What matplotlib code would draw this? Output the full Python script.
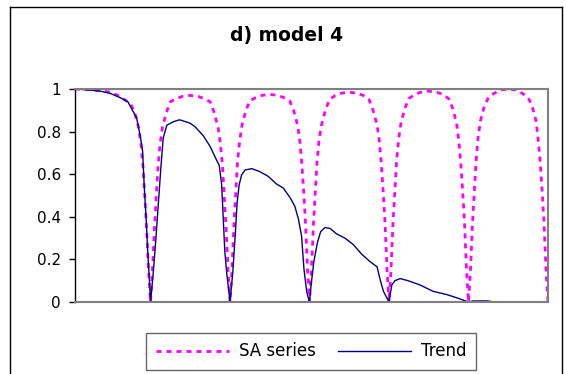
import numpy as np
import matplotlib
matplotlib.use('Agg')
import matplotlib.pyplot as plt
from matplotlib.lines import Line2D

sa_x = [0, 5, 9, 11.3, 14, 15, 16, 16.6, 17.1, 17.6, 18, 18.5, 19,
        19.5, 20, 20.4, 20.9, 21.4, 22, 23, 24, 25.5, 27, 29, 31, 32.5, 34, 35, 36, 36.6, 37.1, 37.6, 38, 38.5, 39,
        39.5, 40, 40.4, 40.9, 41.4, 42, 43, 44, 45.5, 47, 49, 51, 52.5, 54, 55, 56, 56.6, 57.1, 57.6, 58, 58.5, 59,
        59.5, 60, 60.4, 60.9, 61.4, 62, 63, 64, 65.5, 67, 69, 71, 72.5, 74, 75, 76, 76.6, 77.1, 77.6, 78, 78.5, 79,
        79.5, 80, 80.4, 80.9, 81.4, 82, 83, 84, 85.5, 87, 89, 91, 92.5, 94, 95, 96, 96.6, 97.1, 97.6, 98, 98.5, 99,
        99.5, 100, 100.4, 100.9, 101.4, 102, 103, 104, 105.5, 107, 109, 111, 112.5, 114, 115, 116, 116.6, 117.1, 117.6, 118, 118.5, 119]
sa_y = [1.0, 0.995, 0.985, 0.965, 0.93, 0.89, 0.82, 0.74, 0.64, 0.48, 0.35, 0.15, 0.0,
        0.15, 0.35, 0.48, 0.64, 0.74, 0.82, 0.89, 0.94, 0.955, 0.965, 0.97, 0.965, 0.955, 0.94, 0.89, 0.82, 0.74, 0.64, 0.48, 0.35, 0.15, 0.0,
        0.15, 0.37, 0.5, 0.66, 0.75, 0.83, 0.9, 0.945, 0.96, 0.97, 0.975, 0.97, 0.96, 0.945, 0.9, 0.83, 0.75, 0.64, 0.5, 0.37, 0.15, 0.0,
        0.15, 0.37, 0.5, 0.66, 0.76, 0.83, 0.9, 0.95, 0.97, 0.98, 0.985, 0.98, 0.97, 0.95, 0.9, 0.83, 0.75, 0.64, 0.5, 0.37, 0.15, 0.0,
        0.15, 0.37, 0.5, 0.66, 0.76, 0.84, 0.91, 0.955, 0.975, 0.985, 0.99, 0.985, 0.975, 0.955, 0.91, 0.84, 0.75, 0.64, 0.5, 0.37, 0.15, 0.0,
        0.15, 0.37, 0.5, 0.66, 0.77, 0.85, 0.92, 0.96, 0.98, 0.995, 1.0, 0.995, 0.98, 0.96, 0.92, 0.85, 0.75, 0.64, 0.5, 0.37, 0.15, 0.0]

# Trend
tr_x = [0, 3.8, 6.3, 8.8, 11.3, 13.3, 14.6, 15.5, 16.4, 17.0, 17.4, 17.9, 18.3, 18.7, 19,
        19.7, 20.4, 21.0, 21.6, 22.2, 23.1, 24.7, 26.0, 26.4, 28.9, 30.2, 32.3, 34.0, 35.6, 36.3, 36.9, 37.3, 37.7, 38.2, 38.7, 39,
        39.7, 40.3, 40.8, 41.3, 41.9, 42.8, 44.5, 46.5, 48.6, 50.7, 52.4, 54.1, 55.3, 56.2, 57.0, 57.6, 58.3, 59,
        59.4, 60.1, 61.0, 61.8, 62.9, 64.2, 65.8, 67.9, 70.0, 72.1, 74.2, 76.0, 76.7, 77.6, 79,
        79.7, 80.5, 81.8, 83.8, 86.8, 90.1, 93.5, 96.0, 99,
        100.2, 103.6, 105.7]
tr_y = [1.0, 0.995, 0.99, 0.98, 0.96, 0.94, 0.895, 0.865, 0.78, 0.71, 0.55, 0.39, 0.235, 0.11, 0.0,
        0.14, 0.31, 0.47, 0.63, 0.77, 0.83, 0.846, 0.854, 0.855, 0.84, 0.823, 0.78, 0.73, 0.667, 0.64, 0.55, 0.39, 0.235, 0.13, 0.05, 0.0,
        0.14, 0.31, 0.47, 0.55, 0.596, 0.62, 0.626, 0.612, 0.59, 0.554, 0.535, 0.49, 0.45, 0.39, 0.31, 0.155, 0.047, 0.0,
        0.08, 0.19, 0.28, 0.33, 0.35, 0.345, 0.32, 0.30, 0.27, 0.225, 0.19, 0.165, 0.11, 0.05, 0.0,
        0.08, 0.10, 0.11, 0.10, 0.08, 0.05, 0.035, 0.02, 0.0,
        0.005, 0.005, 0.0]

yticks = [0, 0.2, 0.4, 0.6, 0.8, 1]
ytick_labels = ['0', '0.2', '0.4', '0.6', '0.8', '1']

plt.rcParams['font.family'] = 'DejaVu Sans'

fig = plt.figure(figsize=(5.66, 3.74), dpi=100)
W, H = 566.0, 374.0
ax = fig.add_axes([75 / W, 1 - 302 / H, 473 / W, 213 / H])

ax.plot(sa_x, sa_y, color='#ff00ff', lw=2.0, linestyle=(0, (1.8, 1.8)), label='SA series')
ax.plot(tr_x, tr_y, color='#000080', lw=1.0, label='Trend')

ax.set_xlim(0, 119)
ax.set_ylim(0, 1)
ax.set_xticks([])
ax.set_yticks(yticks)
ax.set_yticklabels(ytick_labels, fontsize=11)
ax.tick_params(axis='y', direction='out', length=4, width=1, color='black', pad=6)

for s in ['top', 'right', 'bottom']:
    ax.spines[s].set_color('#808080')
    ax.spines[s].set_linewidth(1.5)
ax.spines['left'].set_color('black')
ax.spines['left'].set_linewidth(1.0)

fig.text(287 / W, 1 - 36 / H, 'd) model 4', ha='center', va='center',
         fontsize=13.5, fontweight='bold')

leg = fig.legend(loc='center', bbox_to_anchor=(311 / W, 1 - 351.5 / H), ncol=2,
                 fontsize=12, handlelength=4.4, handletextpad=0.6, columnspacing=1.3,
                 borderpad=0.55, fancybox=False, frameon=True)
leg.get_frame().set_edgecolor('#404040')
leg.get_frame().set_linewidth(1.0)

# outer chart border (bottom edge lies outside the image)
fig.add_artist(Line2D([9.5 / W, 9.5 / W], [0, 1 - 6.5 / H], color='black', lw=1.0))
fig.add_artist(Line2D([9.5 / W, 562 / W], [1 - 6.5 / H, 1 - 6.5 / H], color='black', lw=1.0))
fig.add_artist(Line2D([562 / W, 562 / W], [0, 1 - 6.5 / H], color='black', lw=1.0))

fig.savefig('out.png', dpi=100)
